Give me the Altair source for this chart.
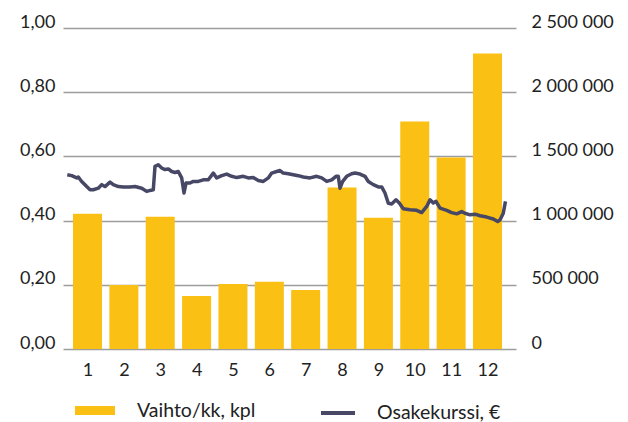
import altair as alt
import pandas as pd

# Monthly trading volume (Vaihto/kk, kpl), right axis
months = [1, 2, 3, 4, 5, 6, 7, 8, 9, 10, 11, 12]
volume = [1053000, 499000, 1030000, 413000, 507000, 523000, 460000,
          1258000, 1022000, 1771000, 1492000, 2301000]

# Share price (Osakekurssi, €), left axis; time in fractional months
price_t = [0.444, 0.565, 0.703, 0.747, 0.840, 0.978, 1.069, 1.159, 1.297, 1.390,
           1.481, 1.619, 1.709, 1.847, 1.984, 2.169, 2.306, 2.490, 2.628, 2.719,
           2.809, 2.856, 2.947, 3.040, 3.131, 3.222, 3.315, 3.406, 3.497, 3.590,
           3.654, 3.709, 3.819, 3.909, 4.047, 4.184, 4.322, 4.459, 4.553, 4.690,
           4.828, 4.965, 5.103, 5.284, 5.422, 5.559, 5.697, 5.834, 5.972, 6.065,
           6.203, 6.294, 6.384, 6.522, 6.659, 6.797, 6.934, 7.119, 7.303, 7.440,
           7.578, 7.715, 7.834, 7.897, 7.944, 8.018, 8.128, 8.265, 8.356, 8.494,
           8.631, 8.722, 8.859, 8.997, 9.090, 9.181, 9.272, 9.365, 9.484, 9.574,
           9.684, 9.869, 10.053, 10.190, 10.328, 10.419, 10.509, 10.584, 10.694, 10.878,
           11.015, 11.153, 11.290, 11.381, 11.519, 11.656, 11.794, 11.978, 12.159, 12.280,
           12.344, 12.434, 12.494]
price = [0.543, 0.540, 0.533, 0.536, 0.522, 0.506, 0.496, 0.496, 0.501, 0.512,
         0.506, 0.520, 0.512, 0.506, 0.505, 0.505, 0.506, 0.501, 0.491, 0.494,
         0.496, 0.569, 0.574, 0.564, 0.559, 0.561, 0.553, 0.550, 0.553, 0.533,
         0.486, 0.517, 0.517, 0.522, 0.522, 0.527, 0.527, 0.548, 0.533, 0.540,
         0.545, 0.538, 0.534, 0.538, 0.533, 0.534, 0.525, 0.522, 0.533, 0.548,
         0.553, 0.556, 0.548, 0.546, 0.543, 0.540, 0.536, 0.533, 0.538, 0.533,
         0.522, 0.527, 0.538, 0.538, 0.501, 0.522, 0.538, 0.546, 0.548, 0.545,
         0.538, 0.522, 0.512, 0.505, 0.505, 0.486, 0.454, 0.452, 0.465, 0.455,
         0.437, 0.434, 0.432, 0.425, 0.444, 0.465, 0.455, 0.460, 0.439, 0.432,
         0.425, 0.421, 0.428, 0.423, 0.418, 0.420, 0.415, 0.411, 0.405, 0.397,
         0.402, 0.423, 0.460]

left_ticks = [0, 0.2, 0.4, 0.6, 0.8, 1.0]
right_ticks = [0, 500000, 1000000, 1500000, 2000000, 2500000]

bar_name = "Vaihto/kk, kpl"
line_name = "Osakekurssi, €"

FONT = "Lato"
FS = 18
LFS = 19.5
TXT = "#222222"
BAR = "#FBC014"
LINE = "#474766"
GRID = "#9d9d9d"

bars_df = pd.DataFrame({"t": months, "vol": volume, "s1": [bar_name] * len(months)})
line_df = pd.DataFrame({"t": price_t, "price": price, "s2": [line_name] * len(price)})

xscale = alt.Scale(domain=[0.326, 12.784], nice=False, zero=False, padding=0)
xaxis = alt.Axis(values=months, grid=False, ticks=False, domain=False, title="",
                 labelFont=FONT, labelFontSize=FS, labelColor=TXT, labelPadding=12,
                 format="d")

bars = alt.Chart(bars_df).mark_bar(size=29).encode(
    x=alt.X("t:Q", scale=xscale, axis=xaxis),
    y=alt.Y("vol:Q", scale=alt.Scale(domain=[0, 2500000], nice=False),
            axis=alt.Axis(orient="right", values=right_ticks, grid=False, ticks=False,
                          domain=False, title="", labelFont=FONT, labelFontSize=FS,
                          labelColor=TXT, labelPadding=15, labelBaseline="alphabetic",
                          labelOffset=-1, labelAlign="left", labelLimit=200,
                          labelExpr="replace(replace(format(datum.value, ',d'), ',', '\u00a0'), ',', '\u00a0')")),
    fill=alt.Fill("s1:N", scale=alt.Scale(range=[BAR]),
                  legend=alt.Legend(orient="none", legendX=12, legendY=362.5, title="",
                                    padding=0, symbolType="M-1,-0.225H1V0.225H-1Z",
                                    symbolSize=1600, symbolStrokeWidth=0,
                                    symbolFillColor=BAR, labelOffset=22,
                                    labelFont=FONT, labelFontSize=LFS, labelColor=TXT,
                                    labelLimit=300)),
)

line = alt.Chart(line_df).mark_line(strokeWidth=3.5, strokeJoin="round").encode(
    x=alt.X("t:Q", scale=xscale, axis=xaxis),
    y=alt.Y("price:Q", scale=alt.Scale(domain=[0, 1], nice=False),
            axis=alt.Axis(orient="left", values=left_ticks, grid=True, gridColor=GRID,
                          gridWidth=1.5, ticks=False, domain=False, title="",
                          labelFont=FONT, labelFontSize=FS, labelColor=TXT,
                          labelPadding=8, labelBaseline="alphabetic", labelOffset=-1,
                          labelExpr="replace(format(datum.value, '.2f'), '.', ',')")),
    stroke=alt.Stroke("s2:N", scale=alt.Scale(range=[LINE]),
                      legend=alt.Legend(orient="none", legendX=256, legendY=366, title="",
                                        padding=0, symbolType="stroke", symbolSize=1156,
                                        symbolStrokeWidth=4, symbolStrokeColor=LINE,
                                        labelOffset=20, labelFont=FONT, labelFontSize=LFS,
                                        labelColor=TXT, labelLimit=300)),
    order="t:Q",
)

chart = alt.layer(bars, line).resolve_scale(y="independent").properties(
    width=453, height=321,
    padding={"left": 55, "top": 20, "right": 104, "bottom": 78},
    autosize=alt.AutoSizeParams(type="none"),
).configure_view(stroke="transparent")

chart.save("out.html", embed_options={"renderer": "svg", "actions": False})
